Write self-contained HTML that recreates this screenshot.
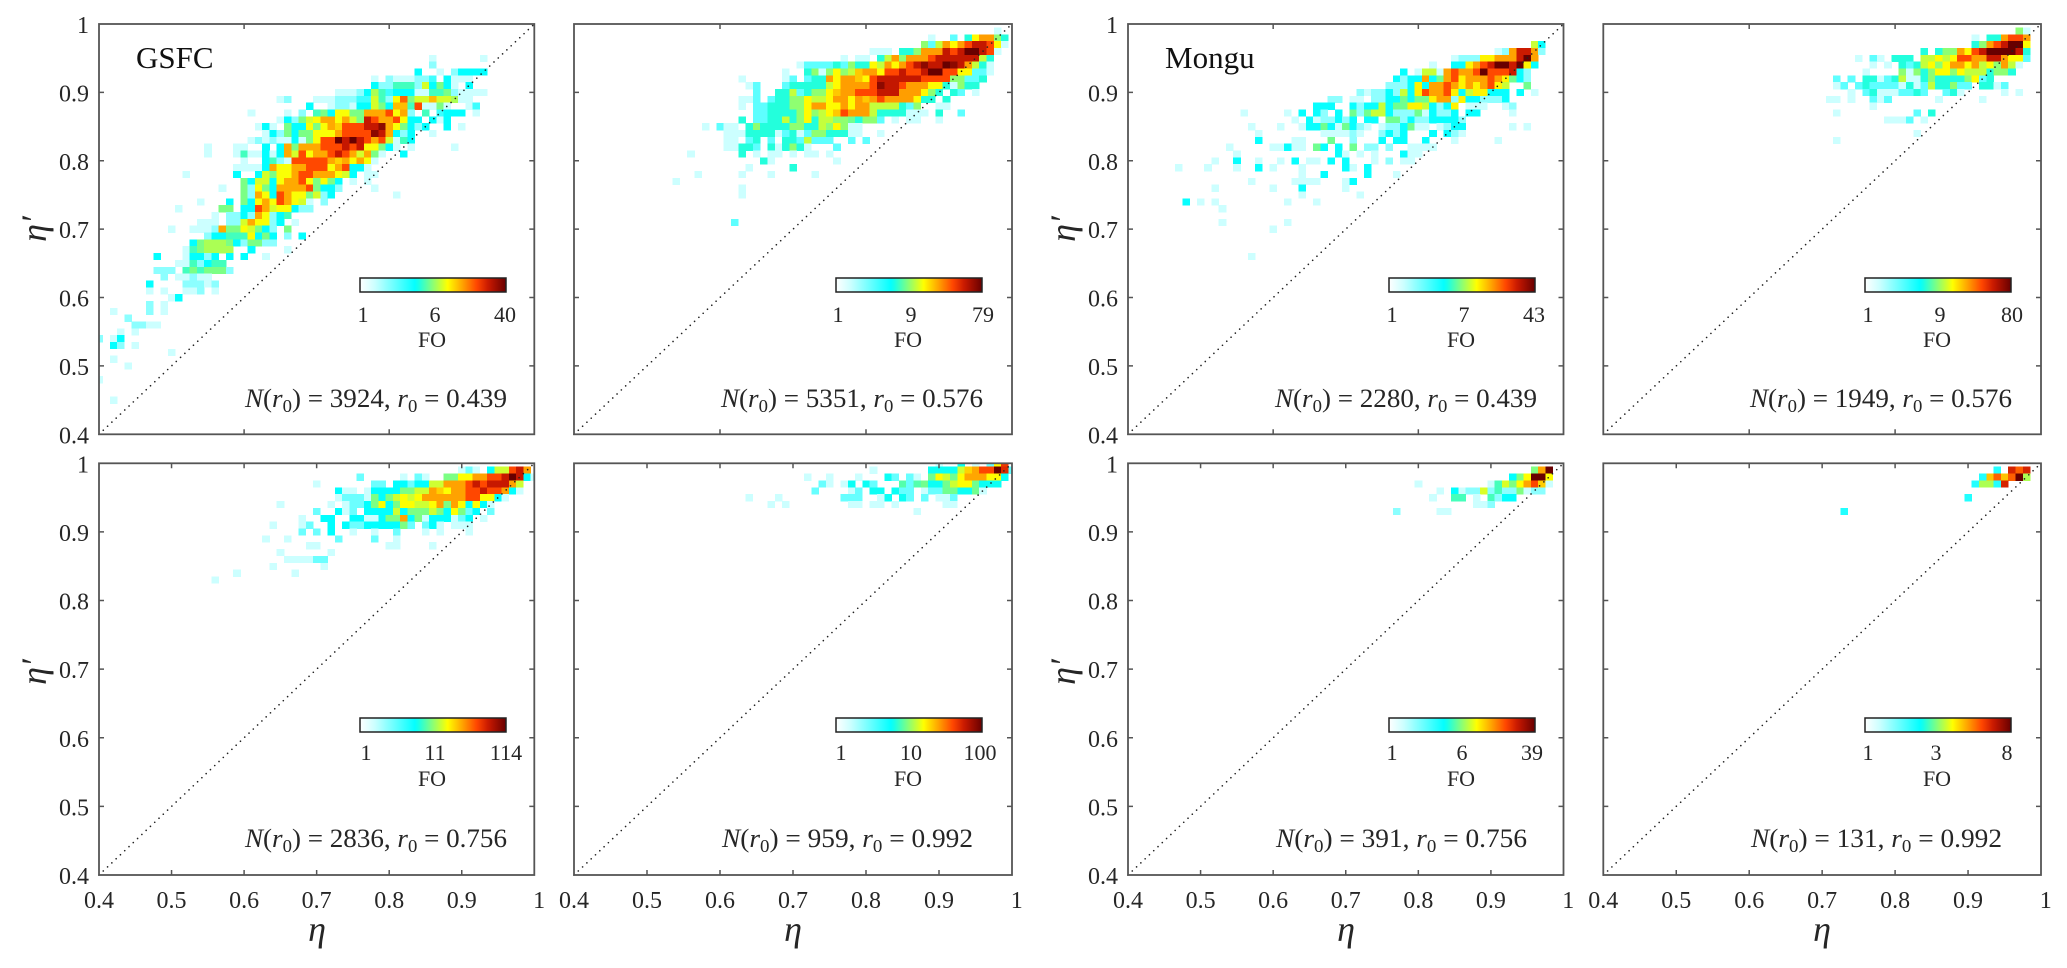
<!DOCTYPE html>
<html lang="en">
<head>
<meta charset="utf-8">
<title>Eta versus eta-prime frequency of occurrence heatmaps</title>
<style>
html,body{margin:0;padding:0;background:#fff;}
svg{display:block;font-family:"Liberation Serif",serif;fill:#262626;}
.tick{font-size:24px;}
.cb{font-size:22px;text-anchor:middle;}
.ann{font-size:26px;text-anchor:end;}
.sub{font-size:18px;}
.title{font-size:31px;fill:#111;}
.axis{font-size:36px;font-style:italic;text-anchor:middle;}
</style>
</head>
<body>
<svg id="figure" width="2067" height="968" viewBox="0 0 2067 968" xmlns="http://www.w3.org/2000/svg">
<defs><linearGradient id="jet-bar" x1="0" x2="1" y1="0" y2="0"></linearGradient></defs>
<g id="plots"></g>
<g>
<text class="title" x="136" y="68">GSFC</text>
<text class="title" x="1165" y="68">Mongu</text>

<text class="ann" x="507" y="407" textLength="262" lengthAdjust="spacingAndGlyphs"><tspan font-style="italic">N</tspan>(<tspan font-style="italic">r</tspan><tspan class="sub" dy="5">0</tspan><tspan dy="-5">) = 3924, </tspan><tspan font-style="italic">r</tspan><tspan class="sub" dy="5">0</tspan><tspan dy="-5"> = 0.439</tspan></text>
<text class="ann" x="983" y="407" textLength="262" lengthAdjust="spacingAndGlyphs"><tspan font-style="italic">N</tspan>(<tspan font-style="italic">r</tspan><tspan class="sub" dy="5">0</tspan><tspan dy="-5">) = 5351, </tspan><tspan font-style="italic">r</tspan><tspan class="sub" dy="5">0</tspan><tspan dy="-5"> = 0.576</tspan></text>
<text class="ann" x="1537" y="407" textLength="262" lengthAdjust="spacingAndGlyphs"><tspan font-style="italic">N</tspan>(<tspan font-style="italic">r</tspan><tspan class="sub" dy="5">0</tspan><tspan dy="-5">) = 2280, </tspan><tspan font-style="italic">r</tspan><tspan class="sub" dy="5">0</tspan><tspan dy="-5"> = 0.439</tspan></text>
<text class="ann" x="2012" y="407" textLength="262" lengthAdjust="spacingAndGlyphs"><tspan font-style="italic">N</tspan>(<tspan font-style="italic">r</tspan><tspan class="sub" dy="5">0</tspan><tspan dy="-5">) = 1949, </tspan><tspan font-style="italic">r</tspan><tspan class="sub" dy="5">0</tspan><tspan dy="-5"> = 0.576</tspan></text>
<text class="ann" x="507" y="847" textLength="262" lengthAdjust="spacingAndGlyphs"><tspan font-style="italic">N</tspan>(<tspan font-style="italic">r</tspan><tspan class="sub" dy="5">0</tspan><tspan dy="-5">) = 2836, </tspan><tspan font-style="italic">r</tspan><tspan class="sub" dy="5">0</tspan><tspan dy="-5"> = 0.756</tspan></text>
<text class="ann" x="973" y="847" textLength="251" lengthAdjust="spacingAndGlyphs"><tspan font-style="italic">N</tspan>(<tspan font-style="italic">r</tspan><tspan class="sub" dy="5">0</tspan><tspan dy="-5">) = 959, </tspan><tspan font-style="italic">r</tspan><tspan class="sub" dy="5">0</tspan><tspan dy="-5"> = 0.992</tspan></text>
<text class="ann" x="1527" y="847" textLength="251" lengthAdjust="spacingAndGlyphs"><tspan font-style="italic">N</tspan>(<tspan font-style="italic">r</tspan><tspan class="sub" dy="5">0</tspan><tspan dy="-5">) = 391, </tspan><tspan font-style="italic">r</tspan><tspan class="sub" dy="5">0</tspan><tspan dy="-5"> = 0.756</tspan></text>
<text class="ann" x="2002" y="847" textLength="251" lengthAdjust="spacingAndGlyphs"><tspan font-style="italic">N</tspan>(<tspan font-style="italic">r</tspan><tspan class="sub" dy="5">0</tspan><tspan dy="-5">) = 131, </tspan><tspan font-style="italic">r</tspan><tspan class="sub" dy="5">0</tspan><tspan dy="-5"> = 0.992</tspan></text>

<g><rect x="360" y="278" width="146" height="14" fill="url(#jet-bar)" stroke="#222" stroke-width="1.5"/><text class="cb" x="363" y="322">1</text><text class="cb" x="435" y="322">6</text><text class="cb" x="505" y="322">40</text><text class="cb" x="432" y="347">FO</text></g>
<g><rect x="836" y="278" width="146" height="14" fill="url(#jet-bar)" stroke="#222" stroke-width="1.5"/><text class="cb" x="838" y="322">1</text><text class="cb" x="911" y="322">9</text><text class="cb" x="983" y="322">79</text><text class="cb" x="908" y="347">FO</text></g>
<g><rect x="1389" y="278" width="146" height="14" fill="url(#jet-bar)" stroke="#222" stroke-width="1.5"/><text class="cb" x="1392" y="322">1</text><text class="cb" x="1464" y="322">7</text><text class="cb" x="1534" y="322">43</text><text class="cb" x="1461" y="347">FO</text></g>
<g><rect x="1865" y="278" width="146" height="14" fill="url(#jet-bar)" stroke="#222" stroke-width="1.5"/><text class="cb" x="1868" y="322">1</text><text class="cb" x="1940" y="322">9</text><text class="cb" x="2012" y="322">80</text><text class="cb" x="1937" y="347">FO</text></g>
<g><rect x="360" y="718" width="146" height="14" fill="url(#jet-bar)" stroke="#222" stroke-width="1.5"/><text class="cb" x="366" y="760">1</text><text class="cb" x="435" y="760">11</text><text class="cb" x="506" y="760">114</text><text class="cb" x="432" y="786">FO</text></g>
<g><rect x="836" y="718" width="146" height="14" fill="url(#jet-bar)" stroke="#222" stroke-width="1.5"/><text class="cb" x="841" y="760">1</text><text class="cb" x="911" y="760">10</text><text class="cb" x="980" y="760">100</text><text class="cb" x="908" y="786">FO</text></g>
<g><rect x="1389" y="718" width="146" height="14" fill="url(#jet-bar)" stroke="#222" stroke-width="1.5"/><text class="cb" x="1392" y="760">1</text><text class="cb" x="1462" y="760">6</text><text class="cb" x="1532" y="760">39</text><text class="cb" x="1461" y="786">FO</text></g>
<g><rect x="1865" y="718" width="146" height="14" fill="url(#jet-bar)" stroke="#222" stroke-width="1.5"/><text class="cb" x="1868" y="760">1</text><text class="cb" x="1936" y="760">3</text><text class="cb" x="2007" y="760">8</text><text class="cb" x="1937" y="786">FO</text></g>

<text class="axis" x="317" y="941">η</text>
<text class="axis" x="793" y="941">η</text>
<text class="axis" x="1346" y="941">η</text>
<text class="axis" x="1822" y="941">η</text>
<text class="axis" transform="translate(46 229) rotate(-90)">η′</text>
<text class="axis" transform="translate(46 672) rotate(-90)">η′</text>
<text class="axis" transform="translate(1075 229) rotate(-90)">η′</text>
<text class="axis" transform="translate(1075 672) rotate(-90)">η′</text>
</g>
</svg>
<script>
// Tick values and printed labels
const etaTicks = [40, 50, 60, 70, 80, 90, 100];
const tickLabels = ['0.4', '0.5', '0.6', '0.7', '0.8', '0.9', '1'];
const colorbarMax = [40, 79, 43, 80, 114, 100, 39, 8];

// Heatmap rows: [eta-prime in hundredths, first eta in hundredths, [FO counts in consecutive 0.01 bins]]
const gsfc439Rows = [
[95,86,[1]],[95,93,[1]],[94,86,[2]],
[93,84,[4,0,0,1,0,2,4,4,4,4]],
[92,78,[1,0,2,1,1,1,2,2,3,0,4,1,1,1]],
[91,78,[4,2,2,5,5,5,2,8,4,6,4,1,0,4]],
[90,73,[1,1,1,2,4,7,5,3,4,4,4,1,1,5,5,6,2,1,1,1,1]],
[89,65,[1,2]],[89,70,[1,1,1,2,2,2,3,3,8,5,2,9,17,6,8,8,12,8,8,7,1,1]],
[88,69,[4,0,0,1,2,2,1,4,4,8,6,4,12,12,5,19,1,1,6,1,0,0,1,3]],
[87,61,[1]],[87,66,[1,0,2,0,5,6,4,9,9,6,6,13,13,13,19,9,13,2,0,5,0,3,4,4,4,0,1]],
[86,65,[1,4,2,6,8,9,13,13,9,13,8,6,26,19,13,13,19,9,4,4,0,4,1,4]],
[85,62,[1,4,1,0,6,4,4,9,6,9,13,11,19,19,19,26,26,34,13,9,6,4,2,4,0,0,4,0,1]],
[84,63,[1,4,2,6,4,6,6,9,9,9,13,19,19,19,19,34,26,13,4,2,4,0,0,1]],
[83,61,[1,2,1,2,1,1,4,1,6,9,19,19,40,26,40,26,19,13,19,8,1,5,4]],
[82,55,[1]],[82,59,[1,1,0,0,4,0,4,13,6,13,13,13,19,19,19,26,19,26,9,9,6,4,1,0,1]],[82,89,[1]],
[81,55,[1]],[81,59,[1,5,1,1,4,1,4,13,8,19,9,13,13,19,26,19,13,8,13,6,1,0,0,4]],
[80,60,[1,0,0,4,5,2,1,19,19,19,19,19,13,11,13,9,13,9,1]],
[79,59,[1,1,1,1,4,13,9,9,13,13,19,19,19,9,13,19,4,4,1]],
[78,52,[1]],[78,59,[4,0,0,4,8,6,9,9,13,19,19,13,13,13,9,8,4,0,1,1]],
[77,60,[6,4,8,8,4,9,13,13,19,9,6,9,6,4,0,1,0,1]],
[76,57,[1]],[76,60,[6,2,9,6,4,13,13,13,13,19,6,4,4,2,0,0,0,0,1]],
[75,60,[6,2,13,9,4,19,13,9,9,6,8,2,4]],[75,81,[1]],
[74,54,[1]],[74,58,[4,0,6,4,9,13,9,19,13,9,8,1,0,2]],
[73,51,[1]],[73,57,[6,6,0,4,4,19,13,8,9,9,4,2,2]],
[72,56,[1,0,2,2,4,2,13,9,2,4,5]],
[71,54,[1,1,1,0,2,2,8,13,9,9,2,4,0,1]],
[70,50,[1]],[70,53,[1,1,1,2,13,6,6,9,8,6,4,2,0,6]],
[69,55,[2,4,4,5,5,5,9,4,6,4,0,2,0,4]],
[68,53,[4,6,7,7,7,6,4,2,6,6,2,2]],
[67,52,[1,5,6,7,7,7,7,0,0,4]],[67,66,[1]],
[66,48,[4]],[66,52,[1,4,4,2,4,0,4,0,4,0,0,1]],
[65,51,[1,1,5,2,4,5,5]],
[64,48,[2,2,2,0,5,6,5,6,6,6,2]],
[63,49,[2,0,1,1,2,1,1]],
[62,47,[4,0,0,0,0,2,2,2,1,2]],
[61,47,[1,0,1,0,0,1,1,2,0,1]],
[60,50,[1,4]],[59,47,[2,0,1]],[58,42,[1]],[58,47,[2,0,1]],[57,44,[2]],
[56,45,[2,2,1,1]],[55,43,[1,0,1]],[54,40,[2,0,1,4]],[53,42,[4,2,0,1]],
[52,50,[1]],[51,42,[1]],[50,44,[1]],[48,40,[1]],[45,42,[1]]
];
const gsfc576Rows = [
[99,98,[1]],
[98,89,[1,0,0,3,0,6,14,22,22,9,6]],
[97,88,[9,3,11,22,14,22,33,48,48,33,14,1]],
[96,81,[1,1,1,0,6,6,9,22,22,22,48,33,48,79,79,48,33,1]],
[95,77,[1]],[95,79,[1,1,0,6,11,22,9,22,22,22,33,48,48,48,48,48,48,11,6]],
[94,71,[1,3,3,3,3,6,3,9,6,6,14,11,22,14,22,33,48,65,48,48,79,65,48,22,11,6,1]],
[93,69,[1,0,0,6,9,1,9,14,9,11,18,22,22,14,33,33,48,33,33,48,79,79,33,33,14,14,3,3,1]],
[92,63,[1]],[92,69,[1,3,0,3,6,6,22,14,22,22,18,14,33,48,48,48,48,48,48,33,33,33,33,9,9,3,3,6]],
[91,64,[1,3]],[91,69,[3,6,6,6,6,6,11,14,22,22,22,22,33,65,48,48,33,22,22,22,14,14,6,1,9,6,6]],
[90,65,[3,0,0,6,6,11,3,6,9,9,14,18,22,22,33,33,33,48,48,48,22,22,22,14,9,6,0,6,3,0,1]],
[89,63,[1,1,3,0,3,6,6,9,9,14,11,11,14,22,22,14,22,18,22,33,22,22,22,22,14,6,6,0,6]],
[88,63,[1,0,3,3,6,6,6,9,9,14,22,22,14,14,22,14,22,22,11,11,11,11,6,3,9,0,0,1,1]],
[87,65,[3,3,6,6,6,6,9,14,9,11,14,18,33,22,22,22,11,6,6,6,6,1,1,1,0,6,0,0,3]],
[86,63,[6,0,3,3,6,6,11,6,9,14,6,11,11,9,9,8,6,9,9,3,0,1,0,1,1,0,0,1]],
[85,58,[1,0,3,1,1,0,6,9,6,6,6,6,9,9,6,6,11,9,14,9,1,1]],
[84,61,[1,1,1,6,6,6,6,1,3,6,1,3,9,9,6,6,6,1,1,0,0,1]],
[83,61,[1,1,0,3,6,0,3,0,6,6,3,11,3,3,3,0,0,3,0,3]],
[82,61,[1,1,6,6,3,0,6,1,6,9,6,1,0,0,0,3]],
[81,56,[1]],[81,63,[6,0,1,0,1,1,0,1,0,1,1,0,1]],
[80,66,[6,1]],[80,76,[1]],[79,64,[1]],[79,70,[6]],
[78,57,[1]],[78,63,[1]],[78,67,[1]],[78,73,[1]],
[77,54,[1]],[76,63,[1]],[75,63,[1]],[71,62,[3]]
];
const mongu439Rows = [
[97,96,[8,4]],
[96,91,[1,2,14,27,27,14,2]],
[95,85,[1,2,2,2,10,10,14,14,14,27,43,14]],
[94,82,[1]],[94,85,[4,4,10,14,20,27,43,43,27,43,10,4]],
[93,78,[4,0,1,8,8,1,14,20,14,14,20,43,20,20,20,27,4,2]],
[92,77,[4,2,4,4,14,4,6,14,20,10,14,14,14,20,14,10,6,4,2]],
[91,76,[2,2,2,4,10,4,14,14,20,14,10,14,10,14,20,10,8,0,0,6]],
[90,72,[2,1,2,2,4,2,8,4,10,20,14,14,20,10,4,8,10,10,4,4,4,0,4,0,1]],
[89,68,[2,2,0,1,1,0,2,2,4,4,6,4,6,6,10,14,14,2,10,4,4,2,2,2,4]],
[88,66,[4,4,4,0,0,4,2,4,4,8,4,6,6,10,10,8,4,2,4,10,0,1,1,1,0,0,1,2]],
[87,56,[1]],[87,62,[1,0,4,0,4,2,0,4,0,6,2,6,8,8,4,2,2,2,6,1,4,2,2,4,0,4,4]],[87,93,[1]],
[86,63,[1,0,4,1,2,2,4,2,4,0,4,4,0,6,6,2,4,2,2,4,4,4,4,2]],
[85,57,[1]],[85,61,[1,0,0,1,4,4,6,4,1,6,4,2,1,0,1,2,2,4,6,1,1,0,1,2,4,4]],[85,93,[1]],[85,95,[1]],
[84,58,[1]],[84,67,[1,1,1,1,2,1,0,0,2,4,2,4,0,0,0,4,0,4,2,1]],
[83,58,[4]],[83,63,[1,1,0,0,0,6,0,0,2,0,0,0,4,0,4,4,0,0,4,0,0,0,1]],[83,91,[1]],
[82,54,[1]],[82,60,[1,1,4,1,1,0,6,4,0,4,0,6,0,2,2,0,2,0,0,1,1,1,1]],
[81,55,[1]],[81,69,[4,1,0,1,0,1,0,0,0,4,1,1]],
[80,52,[1]],[80,55,[4]],[80,58,[1]],[80,61,[1]],[80,63,[4,0,1,1,0,4,0,4,0,0,0,1,0,2,0,1,1]],
[79,47,[1]],[79,51,[1]],[79,55,[1]],[79,58,[4,0,1]],[79,64,[1]],[79,70,[4,1,0,4]],
[78,64,[1]],[78,67,[4]],[78,73,[4]],[78,77,[1]],
[77,57,[1]],[77,63,[1,1,1,1]],[77,70,[1,4]],
[76,52,[1]],[76,60,[1]],[76,64,[4]],[76,70,[1]],
[75,64,[1]],[75,72,[1]],
[74,48,[4,0,1,0,1]],[74,62,[1]],[74,66,[1]],
[73,53,[1]],[71,53,[1]],[71,62,[1]],[70,60,[1]],[66,57,[1]]
];
const mongu576Rows = [
[99,97,[9,1]],
[98,91,[1,0,6,6,22,33,33,22]],
[97,91,[6,9,22,33,48,80,80,14]],
[96,84,[6,0,6,9,9,22,14,33,48,80,80,80,80,48,6]],
[95,75,[1,0,3,1,0,6,6,6,0,11,11,14,11,14,33,33,22,22,48,48,22,14,14,3]],
[94,77,[1,0,1,0,6,3,6,11,14,9,14,22,22,14,22,11,14,9,22,11,1]],
[93,76,[1]],[93,81,[9,1,9,6,9,14,14,9,14,11,11,11,6,9,9,6]],
[92,72,[3,0,3,0,6,6,1,3,6,11,1,1,6,9,6,6,6,6,9,14,3,6]],
[91,72,[1,3,0,3,6,3,3,3,3,1,6,1,3,11,6,6,9,3,3,0,6,6,1,3]],
[90,74,[1,0,3,6,1,1,1,3,3,6,3,0,0,3,6,1]],[90,95,[1]],[90,97,[1]],
[89,71,[1,1,0,1,0,0,3,1,3]],[89,86,[1]],[89,92,[1]],
[88,77,[1]],[87,72,[1]],[87,83,[3,0,6]],
[86,79,[1,1,1,3,0,1]],[84,83,[1]],[83,72,[1]]
];
const gsfc756Rows = [
[99,90,[1,3,1,0,6,14,14,44,65,28]],
[98,76,[3]],[98,82,[1,0,3,1,0,0,10,10,17,17,28,28,44,44,65,114,65,6,1]],
[97,70,[1]],[97,78,[3,3,0,6,6,3,6,6,14,14,28,28,28,44,65,44,65,65,65,28,14]],
[96,73,[6,1,1,0,1,6,6,6,6,10,10,14,14,28,22,17,28,28,44,44,65,44,44,28,6,1]],
[95,73,[1,3,3,3,1,10,6,10,14,17,14,17,28,28,28,28,28,28,44,44,17,17,6,1]],
[94,65,[1]],[94,72,[1,0,1,3,3,6,10,17,6,10,17,17,14,14,17,28,10,28,17,6,17,6,1]],
[93,70,[3]],[93,73,[6,1,3,0,6,6,6,6,14,6,10,10,10,14,10,6,17,10,3,6,0,3]],
[92,68,[1]],[92,71,[6,6,0,0,6,6,1,1,6,10,10,28,6,10,1,6,6,6,1,3,6,0,1]],
[91,64,[1]],[91,68,[1,3,0,0,6,0,6,3,3,6,6,6,6,6,10,3,0,3,6,1,0,1,1,1]],
[90,68,[3,0,3,0,6,0,0,1,0,0,1,0,0,3,0,0,0,1,0,1,0,0,0,1]],
[89,63,[1]],[89,66,[1]],[89,73,[3]],[89,78,[3]],[89,81,[1]],
[88,69,[1,1]],[88,80,[1,1]],[88,86,[1]],
[87,65,[1]],[87,72,[1]],[86,66,[1,1,1,1,3,3]],
[85,64,[1]],[85,71,[1]],[84,59,[1]],[84,67,[1]],[83,56,[1]]
];
const gsfc992Rows = [
[100,90,[1]],[100,93,[6]],[100,95,[1]],[100,97,[3,16,44]],
[99,81,[1]],[99,89,[6,6,6,6,13,20,25,40,40,100,50,3]],
[98,72,[1]],[98,75,[1]],[98,79,[1]],[98,83,[6,3]],[98,86,[3,1]],[98,89,[9,16,13,9,16,25,25,25,16,16,6]],
[97,74,[3,1]],[97,77,[1,6]],[97,80,[6,3]],[97,85,[8,3,8,9,6,6,9,13,16,16,9,6,6,6]],
[96,73,[3]],[96,78,[1,3]],[96,81,[6,6]],[96,84,[6,3,3]],[96,88,[1,3,3,9,9,6,6,9,1]],
[95,64,[1]],[95,68,[1]],[95,77,[3,3,3]],[95,82,[1,6]],[95,85,[6,3]],[95,88,[3]],[95,90,[1,1,3]],
[94,67,[1]],[94,69,[1]],[94,78,[1,1]],[94,81,[1,1]],[94,84,[1]],[94,91,[1,1]],
[93,87,[1]]
];
const mongu756Rows = [
[99,96,[6,13,39]],
[98,93,[4,6,9,39,39,9]],
[97,80,[1]],[97,90,[1,5,8,6,9,13,19,11,1]],
[96,83,[1]],[96,85,[4,1,2,2,8,2,5,2,2,6,1,2,2]],
[95,82,[1]],[95,85,[5,5,0,1,0,5,2,4,4]],
[94,88,[1,1,2]],
[93,77,[2]],[93,83,[1,1]]
];
const mongu992Rows = [
[99,94,[2,0,6,5,6]],
[98,92,[2,4,5,4,5,8,3]],
[97,91,[2,3,3,2,6]],
[95,90,[2]],
[93,73,[2]]
];

// Layout (not data)
const panels = [
  {key:'gsfc-439', rows:gsfc439Rows, left:99, top:24, w:435.3, h:410.3, yLabels:true, xLabels:false},
  {key:'gsfc-576', rows:gsfc576Rows, left:574, top:24, w:438, h:410.3, yLabels:false, xLabels:false},
  {key:'mongu-439', rows:mongu439Rows, left:1128, top:24, w:435.5, h:410.3, yLabels:true, xLabels:false},
  {key:'mongu-576', rows:mongu576Rows, left:1603.3, top:24, w:437.7, h:410.3, yLabels:false, xLabels:false},
  {key:'gsfc-756', rows:gsfc756Rows, left:99, top:463.3, w:435.3, h:411.7, yLabels:true, xLabels:true},
  {key:'gsfc-992', rows:gsfc992Rows, left:574, top:463.3, w:438, h:411.7, yLabels:false, xLabels:true},
  {key:'mongu-756', rows:mongu756Rows, left:1128, top:463.3, w:435.5, h:411.7, yLabels:true, xLabels:true},
  {key:'mongu-992', rows:mongu992Rows, left:1603.3, top:463.3, w:437.7, h:411.7, yLabels:false, xLabels:true}
];
const SVGNS = 'http://www.w3.org/2000/svg';
const rampPos = [0, 0.1, 0.38, 0.49, 0.6, 0.7, 0.8, 0.88, 1];
const rampCol = [[255,255,255],[204,255,255],[0,255,255],[128,255,128],[255,255,0],[255,165,0],[255,70,0],[200,24,0],[104,0,0]];

function ramp(t) {
  t = Math.max(0, Math.min(1, t));
  let i = 0;
  while (i < rampPos.length - 2 && t > rampPos[i + 1]) i++;
  const f = (t - rampPos[i]) / (rampPos[i + 1] - rampPos[i]);
  const c = rampCol[i].map((v, k) => Math.round(v + (rampCol[i + 1][k] - v) * f));
  return 'rgb(' + c.join(',') + ')';
}
function make(tag, attrs, parent) {
  const n = document.createElementNS(SVGNS, tag);
  for (const k in attrs) n.setAttribute(k, attrs[k]);
  parent.appendChild(n);
  return n;
}

const gradient = document.getElementById('jet-bar');
for (let i = 0; i <= 40; i++) {
  make('stop', {offset: i / 40, 'stop-color': ramp(i / 40)}, gradient);
}

const plots = document.getElementById('plots');
panels.forEach(function (p, index) {
  const xScale = function (eta) { return p.left + (eta - 40) / 60 * p.w; };
  const yScale = function (etaPrime) { return p.top + (100 - etaPrime) / 60 * p.h; };
  const maxFO = colorbarMax[index];
  const colorOf = function (fo) { return ramp(Math.max(0.1, Math.log(fo) / Math.log(maxFO))); };

  const group = make('g', {}, plots);
  
  

  const clip = make('clipPath', {id: 'clip-' + index}, group);
  make('rect', {x: p.left, y: p.top, width: p.w, height: p.h}, clip);

  const cells = make('g', {'clip-path': 'url(#clip-' + index + ')', 'shape-rendering': 'crispEdges'}, group);
  
  
  p.rows.forEach(function (row) {
    row[2].forEach(function (fo, k) {
      if (!fo) return;
      const eta = row[1] + k;
      const x0 = xScale(eta - 0.5), x1 = xScale(eta + 0.5);
      const y0 = yScale(row[0] + 0.5), y1 = yScale(row[0] - 0.5);
      const cell = make('rect', {x: x0, y: y0, width: x1 - x0 + 0.3, height: y1 - y0 + 0.3, fill: colorOf(fo)}, cells);
      
      
    });
  });

  const diag = make('line', {x1: xScale(40), y1: yScale(40), x2: xScale(100), y2: yScale(100), stroke: '#222', 'stroke-width': 1.7, 'stroke-linecap': 'round', 'stroke-dasharray': '0 5.9'}, group);
  
  

  const frame = make('rect', {x: p.left, y: p.top, width: p.w, height: p.h, fill: 'none', stroke: '#555', 'stroke-width': 1.8}, group);
  
  

  etaTicks.forEach(function (t, k) {
    const drawX = p.xLabels ? (t > 40 && t < 100) : (t === 60 || t === 80);
    if (drawX) {
      const x = xScale(t);
      const a = make('path', {d: 'M' + x + ' ' + (p.top + p.h) + 'v-5M' + x + ' ' + p.top + 'v5', stroke: '#555', 'stroke-width': 1.5}, group);
      
      
    }
    if (t > 40 && t < 100) {
      const y = yScale(t);
      const b = make('path', {d: 'M' + p.left + ' ' + y + 'h5M' + (p.left + p.w) + ' ' + y + 'h-5', stroke: '#555', 'stroke-width': 1.5}, group);
      
      
    }
    if (p.yLabels) {
      const yl = make('text', {class: 'tick', x: p.left - 10, y: yScale(t) + 9, 'text-anchor': 'end'}, group);
      yl.textContent = tickLabels[k];
      
      
    }
    if (p.xLabels) {
      const xl = make('text', {class: 'tick', x: xScale(t) + (t === 100 ? 4.8 : 0), y: p.top + p.h + 33, 'text-anchor': 'middle'}, group);
      xl.textContent = tickLabels[k];
      
      
    }
  });
});
</script>
</body>
</html>
